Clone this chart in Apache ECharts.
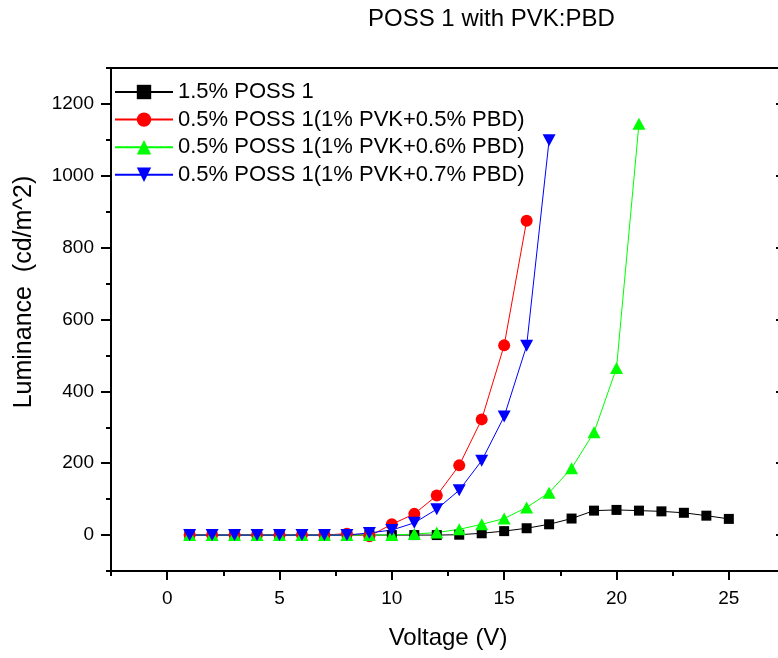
<!DOCTYPE html>
<html>
<head>
<meta charset="utf-8">
<script src="https://cdn.jsdelivr.net/npm/echarts@6/dist/echarts.min.js"></script>
<style>
html,body{margin:0;padding:0;background:#fff;}
#chart{width:778px;height:658px;}
</style>
</head>
<body>
<div id="chart"></div>
<script>
// ---- data ----
var titleText = 'POSS 1 with PVK:PBD';
var xAxisName = 'Voltage (V)';
var yAxisName = 'Luminance  (cd/m^2)';
var seriesNames = [
  '1.5% POSS 1',
  '0.5% POSS 1(1% PVK+0.5% PBD)',
  '0.5% POSS 1(1% PVK+0.6% PBD)',
  '0.5% POSS 1(1% PVK+0.7% PBD)'
];
var voltBlack = [1,2,3,4,5,6,7,8,9,10,11,12,13,14,15,16,17,18,19,20,21,22,23,24,25];
var lumBlack  = [0,0,0,0,0,0,0,0,0,0,0,0,1,5,11,19,30,46,68,70,68,66,62,54,45];
var voltRed   = [1,2,3,4,5,6,7,8,9,10,11,12,13,14,15,16];
var lumRed    = [0,0,0,0,0,0,0,4,-3,30,59,110,194,322,528,875];
var voltGreen = [1,2,3,4,5,6,7,8,9,10,11,12,13,14,15,16,17,18,19,20,21];
var lumGreen  = [0,0,0,0,0,0,0,0,0,0,3,7,16,30,46,77,118,186,286,465,1145];
var voltBlue  = [1,2,3,4,5,6,7,8,9,10,11,12,13,14,15,16,17];
var lumBlue   = [0,0,0,0,0,0,0,0,6,14,34,72,125,207,330,527,1099];
var xMajorTicks = [0,5,10,15,20,25];
var yMajorTicks = [0,200,400,600,800,1000,1200];

function pairs(xs, ys){ return xs.map(function(x,i){ return [x, ys[i]]; }); }

var FONT = 'Liberation Sans, Arial, sans-serif';
var XMIN = -2.5, XMAX = 27.5, YMIN = -100, YMAX = 1300;

var chart = echarts.init(document.getElementById('chart'));
var triUp = 'path://M5,0 L10,8.66 L0,8.66 Z';
var triDown = 'path://M0,0 L10,0 L5,8.66 Z';
function plain(v){ return String(v); }

var option = {
  backgroundColor: '#fff',
  animation: false,
  title: {
    text: titleText, left: 368, top: 7, padding: 0,
    textStyle: {fontFamily: FONT, fontSize: 24, fontWeight: 'normal', color: '#000'}
  },
  legend: {
    orient: 'vertical', left: 109, top: 76, padding: 5,
    itemWidth: 58, itemHeight: 18, itemGap: 5.6,
    textStyle: {fontFamily: FONT, fontSize: 22, color: '#000', lineHeight: 22},
    data: seriesNames
  },
  grid: {left: 111, top: 68, width: 674, bottom: 87, show: false, containLabel: false, outerBoundsMode: 'none'},
  xAxis: [
    {
      type: 'value', position: 'bottom', min: XMIN, max: XMAX,
      name: xAxisName, nameLocation: 'middle', nameGap: 55,
      nameTextStyle: {fontFamily: FONT, fontSize: 24, color: '#000'},
      axisLine: {show: true, onZero: false, lineStyle: {color: '#000', width: 2}},
      axisTick: {show: true, customValues: xMajorTicks, length: 9, lineStyle: {color: '#000', width: 2}},
      axisLabel: {customValues: xMajorTicks, formatter: plain, margin: 18, fontFamily: FONT, fontSize: 19, color: '#000'},
      splitLine: {show: false}
    },
    {
      type: 'value', position: 'bottom', min: XMIN, max: XMAX, interval: 2.5,
      axisLine: {show: false, onZero: false},
      axisTick: {show: true, length: 5, lineStyle: {color: '#000', width: 2}},
      axisLabel: {show: false}, splitLine: {show: false}
    },
    {
      type: 'value', position: 'top', min: XMIN, max: XMAX,
      axisLine: {show: true, onZero: false, lineStyle: {color: '#000', width: 2}},
      axisTick: {show: false}, axisLabel: {show: false}, splitLine: {show: false}
    }
  ],
  yAxis: [
    {
      type: 'value', position: 'left', min: YMIN, max: YMAX,
      axisLine: {show: true, onZero: false, lineStyle: {color: '#000', width: 2}},
      axisTick: {show: true, customValues: yMajorTicks, length: 10, lineStyle: {color: '#000', width: 2}},
      axisLabel: {customValues: yMajorTicks, formatter: plain, margin: 17, fontFamily: FONT, fontSize: 19, color: '#000'},
      splitLine: {show: false}
    },
    {
      type: 'value', position: 'left', min: YMIN, max: YMAX, interval: 100,
      axisLine: {show: false, onZero: false},
      axisTick: {show: true, length: 5, lineStyle: {color: '#000', width: 2}},
      axisLabel: {show: false}, splitLine: {show: false}
    },
    {
      type: 'value', position: 'right', min: YMIN, max: YMAX,
      axisLine: {show: true, onZero: false, lineStyle: {color: '#000', width: 2}},
      axisTick: {show: true, inside: true, customValues: yMajorTicks, length: 9, lineStyle: {color: '#000', width: 2}},
      axisLabel: {show: false}, splitLine: {show: false}
    }
  ],
  graphic: [
    {
      type: 'text', x: 12, y: 292, rotation: Math.PI / 2,
      style: {text: yAxisName, fontFamily: FONT, fontSize: 25, fill: '#000',
              align: 'center', verticalAlign: 'top'}
    }
  ],
  series: [
    {
      name: seriesNames[0], type: 'line', data: pairs(voltBlack, lumBlack),
      symbol: 'rect', symbolSize: 10, itemStyle: {color: '#000'},
      lineStyle: {color: '#000', width: 1}
    },
    {
      name: seriesNames[1], type: 'line', data: pairs(voltRed, lumRed),
      symbol: 'circle', symbolSize: 12, itemStyle: {color: '#ff0000'},
      lineStyle: {color: '#ff0000', width: 1}
    },
    {
      name: seriesNames[2], type: 'line', data: pairs(voltGreen, lumGreen),
      symbol: triUp, symbolSize: [13, 12], itemStyle: {color: '#00ff00'},
      lineStyle: {color: '#00ff00', width: 1}
    },
    {
      name: seriesNames[3], type: 'line', data: pairs(voltBlue, lumBlue),
      symbol: triDown, symbolSize: [13, 12], itemStyle: {color: '#0000ff'},
      lineStyle: {color: '#0000ff', width: 1}
    }
  ]
};
chart.setOption(option);
</script>
</body>
</html>
